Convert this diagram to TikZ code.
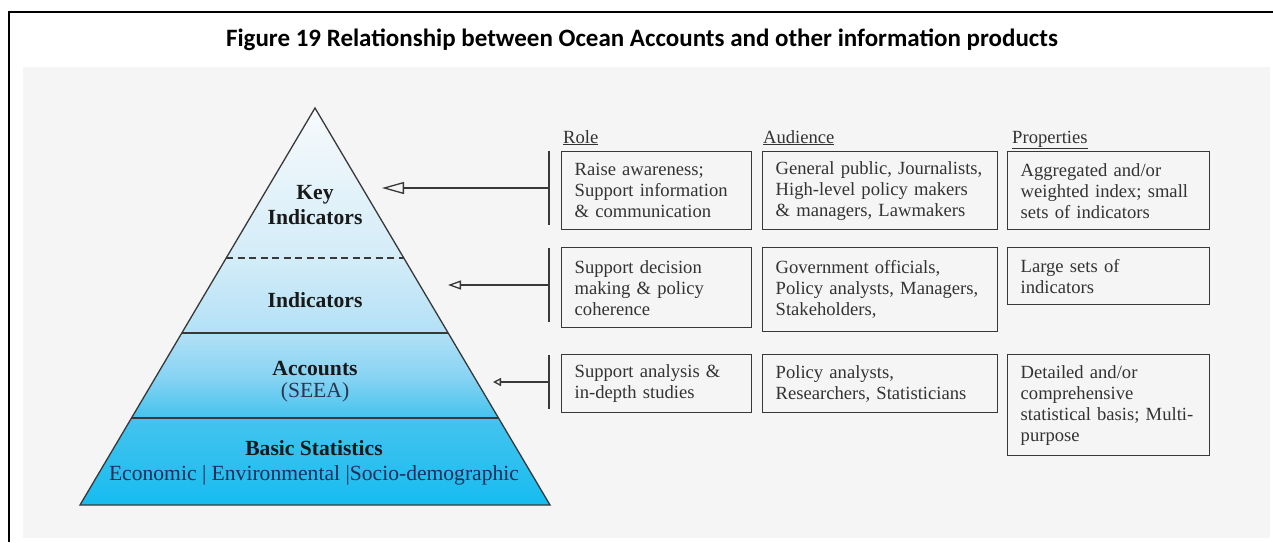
\documentclass[tikz,border=0pt]{standalone}
\usepackage{fontspec}
\setmainfont{Liberation Serif}
\newfontfamily\titlefont{Carlito}
\usepackage{tikz}
\usetikzlibrary{calc,arrows.meta}
\definecolor{panel}{HTML}{F5F5F5}
\definecolor{ink}{HTML}{333333}
\definecolor{rule}{HTML}{383838}
\definecolor{navy}{HTML}{1C2F5A}
\definecolor{dusk}{HTML}{2B3550}
\definecolor{pyrA}{HTML}{17BCF0}
\definecolor{pyrB}{HTML}{45C3EE}
\definecolor{pyrC}{HTML}{86D3F3}
\definecolor{pyrD}{HTML}{B4E1F6}
\definecolor{pyrE}{HTML}{D3ECF8}
\definecolor{pyrF}{HTML}{F7FAFC}
\pgfdeclareverticalshading{pyrshade}{100bp}{color(0bp)=(pyrA); color(25bp)=(pyrA); color(36bp)=(pyrB); color(41bp)=(pyrC); color(47bp)=(pyrD); color(56bp)=(pyrE); color(75bp)=(pyrF); color(100bp)=(pyrF)}

\begin{document}
\begin{tikzpicture}[x=1pt, y=-1pt,
    edge/.style={draw=rule, line width=1.3pt},
    longdash/.style={dash pattern=on 7pt off 4.5pt},
    box/.style={draw=rule, line width=1.4pt, anchor=north west, align=left, inner xsep=13pt,
        font=\fontsize{18.6}{21}\selectfont, text=ink},
    rolecol/.style={box, text width=164pt},
    audcol/.style={box, text width=209pt},
    propcol/.style={box, text width=176pt},
    head/.style={anchor=base west, inner sep=0pt, font=\fontsize{18.6}{21}\selectfont, text=ink},
    lbl/.style={align=center, font=\bfseries\fontsize{21.6}{25}\selectfont, text=black!90}]
    \useasboundingbox (0,0) rectangle (1273,542);
    \draw[line width=2pt] (9,542) -- (9,12) -- (1273,12);
    \fill[panel] (23,67) rectangle (1270,538);
    \node[anchor=base, font=\titlefont\bfseries\fontsize{25}{30}\selectfont] (title) at (642,46)
        {Figure 19 Relationship between Ocean Accounts and other information products};

    \coordinate (apex) at (315,108);
    \coordinate (bl) at (80,505);
    \coordinate (br) at (550,505);
    \shade[shading=pyrshade] (apex) -- (bl) -- (br) -- cycle;
    \foreach \t/\s in {0.3778/longdash, 0.5668/solid, 0.7809/solid}
        \draw[edge, \s] ($(apex)!\t!(bl)$) -- ($(apex)!\t!(br)$);
    \draw[edge, line join=miter] (apex) -- (bl) -- (br) -- cycle;

    \node[lbl] (keyind) at (315,205.5) {Key\\Indicators};
    \node[lbl] (ind) at (315,300) {Indicators};
    \node[lbl, font=\bfseries\fontsize{21.6}{22}\selectfont] (acc) at (315,382)
        {Accounts\\\textcolor{dusk}{\mdseries (SEEA)}};
    \node[lbl] (basic) at (314,462.5)
        {Basic Statistics\\\textcolor{navy}{\mdseries Economic | Environmental |Socio-demographic}};

    \node[head] (hrole) at (563,143) {\underline{Role}};
    \node[head] (haud) at (763,143) {\underline{Audience}};
    \node[head] (hprop) at (1012,143) {\underline{Properties}};

    \node[rolecol, minimum height=78pt] (roleK) at (561,151) {Raise awareness;\\Support information\\\& communication};
    \node[audcol, minimum height=78pt] (audK) at (762,151) {General public, Journalists,\\High-level policy makers\\\& managers, Lawmakers};
    \node[propcol, minimum height=78pt] (propK) at (1007,151) {Aggregated and/or\\weighted index; small\\sets of indicators};

    \node[rolecol, minimum height=80pt] (roleI) at (561,247) {Support decision\\making \& policy\\coherence};
    \node[audcol, minimum height=84pt] (audI) at (762,247) {Government officials,\\Policy analysts, Managers,\\Stakeholders,};
    \node[propcol, minimum height=57pt] (propI) at (1007,247) {Large sets of\\indicators};

    \node[rolecol, minimum height=58pt] (roleA) at (561,354) {Support analysis \&\\in-depth studies};
    \node[audcol, minimum height=58pt] (audA) at (762,354) {Policy analysts,\\Researchers, Statisticians};
    \node[propcol, minimum height=101pt] (propA) at (1007,354) {Detailed and/or\\comprehensive\\statistical basis; Multi-\\purpose};

    \foreach \n/\y/\h/\tx/\len/\wd in {K/188/37/382/22/12, I/285/37/448/13/9, A/382/27/493/8/8} {
        \coordinate (j\n) at (549,\y);
        \coordinate (tip\n) at (\tx,\y);
        \draw[edge] (549,\y-\h) -- (549,\y+\h);
        \draw[edge, -{Triangle[open, length=\len pt, width=\wd pt]}] (j\n) -- (tip\n);
    }
\end{tikzpicture}
\end{document}
